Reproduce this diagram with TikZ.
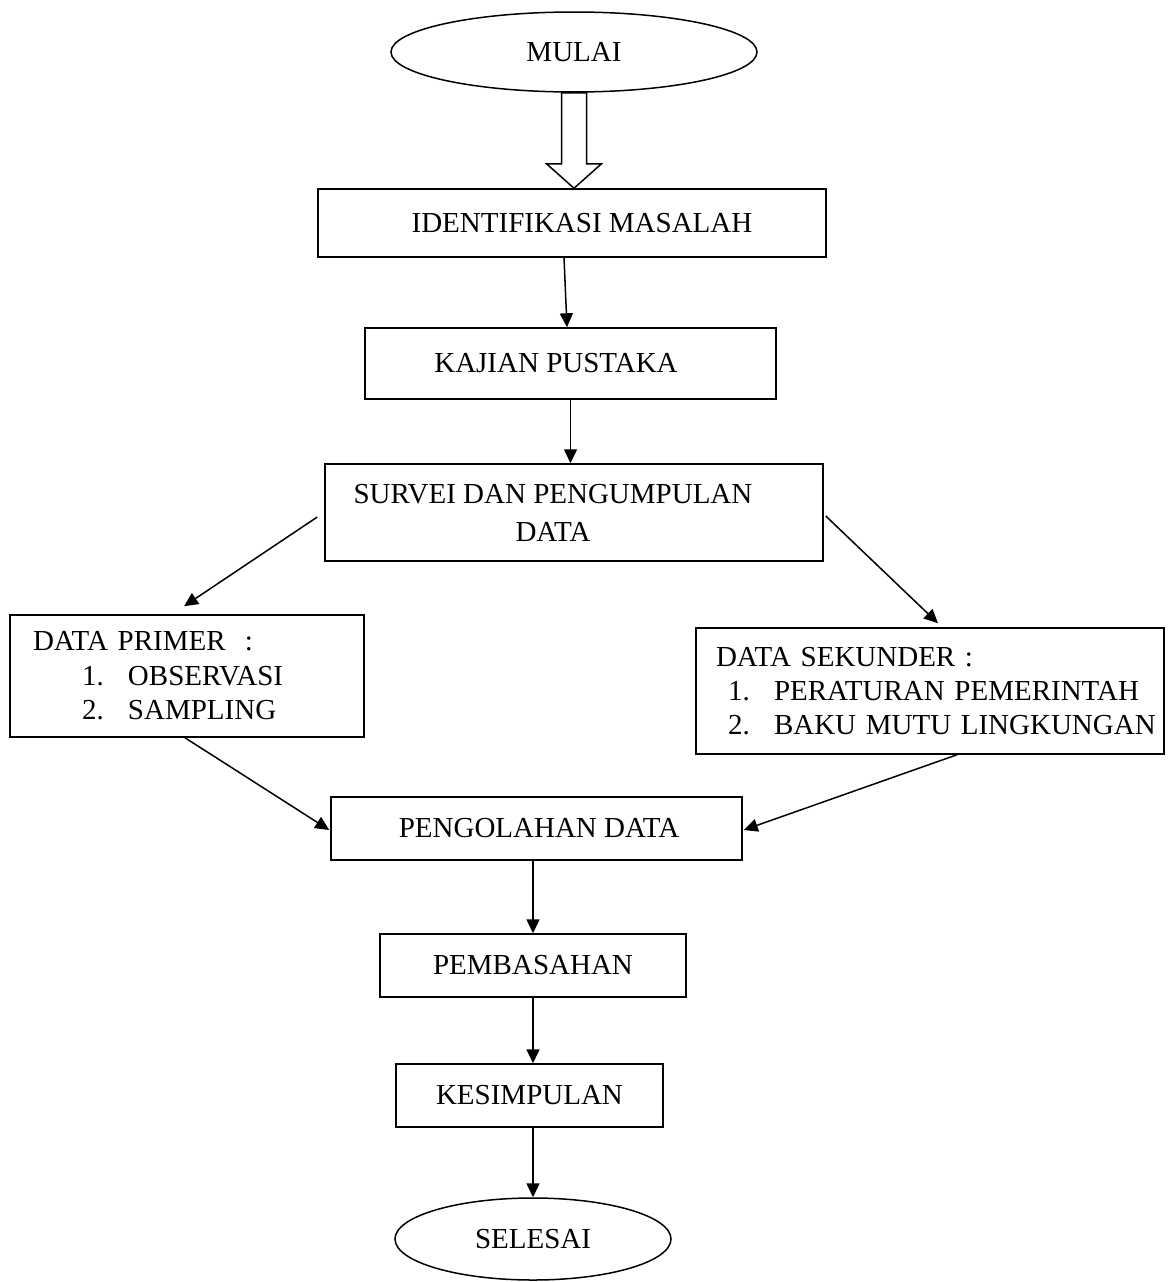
\documentclass[tikz,border=0pt]{standalone}
\usepackage{fontspec}
\setmainfont{Liberation Serif}
\usetikzlibrary{shapes.geometric, arrows.meta, calc}

\begin{document}
\begin{tikzpicture}[x=1pt, y=-1pt, line width=1.5pt,
    every node/.style={font=\fontsize{29}{34.4}\selectfont},
    box/.style={draw, rectangle, minimum width=#1},
    oval/.style={draw, ellipse},
    arr/.style={-{Triangle[length=14pt, width=13pt]}}]
    \useasboundingbox (0,0) rectangle (1168,1282);

    \node[oval, minimum width=366pt, minimum height=80pt] (mulai) at (574,52) {MULAI};
    \node[box=508pt, minimum height=68pt] (ident) at (572,223) {\hspace*{20pt}IDENTIFIKASI MASALAH};
    \node[box=411pt, minimum height=71pt] (kajian) at (570.5,363.5) {KAJIAN PUSTAKA\hspace*{29pt}};
    \node[box=498pt, minimum height=97pt, align=center] (survei) at (574,512.5)
        {SURVEI DAN PENGUMPULAN\rule{42pt}{0pt}\\[3.6pt]DATA\rule{42pt}{0pt}};
    \node[box=354pt, minimum height=122pt, text width=308pt, inner xsep=23pt, align=left] (primer) at (187,676)
        {DATA PRIMER\ \ :\\
        \hspace*{49pt}\makebox[46pt][l]{1.}OBSERVASI\\
        \hspace*{49pt}\makebox[46pt][l]{2.}SAMPLING};
    \node[box=468pt, minimum height=126pt, text width=428pt, inner xsep=20pt, align=left] (sekunder) at (930,691)
        {DATA SEKUNDER :\\
        \hspace*{12pt}\makebox[46pt][l]{1.}\mbox{PERATURAN PEMERINTAH}\\
        \hspace*{12pt}\makebox[46pt][l]{2.}\mbox{BAKU MUTU LINGKUNGAN}};
    \node[box=411pt, minimum height=63pt] (peng) at (536.5,828.5) {\hspace*{5pt}PENGOLAHAN DATA};
    \node[box=306pt, minimum height=63pt] (pemb) at (533,965.5) {PEMBASAHAN};
    \node[box=267pt, minimum height=63pt] (kesim) at (529.5,1095.5) {KESIMPULAN};
    \node[oval, minimum width=276pt, minimum height=82pt] (selesai) at (533,1239) {SELESAI};

    % panah besar dari mulai
    \draw[fill=white] ($(mulai.south)+(-12.5,0)$) -- ++(0,71) -- ++(-15,0) -- (mulai.south |- ident.north)
        -- ($(mulai.south)+(27.5,71)$) -- ++(-15,0) -- ++(0,-71) -- cycle;

    \draw[arr] ($(ident.south)+(-8,0)$) -- ($(kajian.north)+(-3.5,0)$);
    \draw[arr] (kajian.south) -- (kajian.south |- survei.north);
    \draw[arr] ($(survei.west)+(-7,4.5)$) -- ($(primer.north)+(-3,-8)$);
    \draw[arr] ($(survei.east)+(2,3.5)$) -- ($(sekunder.north)+(8,-4)$);
    \draw[arr] ($(primer.south)+(-2,0)$) -- ($(peng.west)+(-1,1.5)$);
    \draw[arr] ($(sekunder.south)+(27,0)$) -- ($(peng.east)+(1,1.5)$);
    \draw[arr] (pemb.north |- peng.south) -- (pemb.north);
    \draw[arr] (pemb.south) -- (pemb.south |- kesim.north);
    \draw[arr] (kesim.south -| selesai.north) -- (selesai.north);
\end{tikzpicture}
\end{document}
